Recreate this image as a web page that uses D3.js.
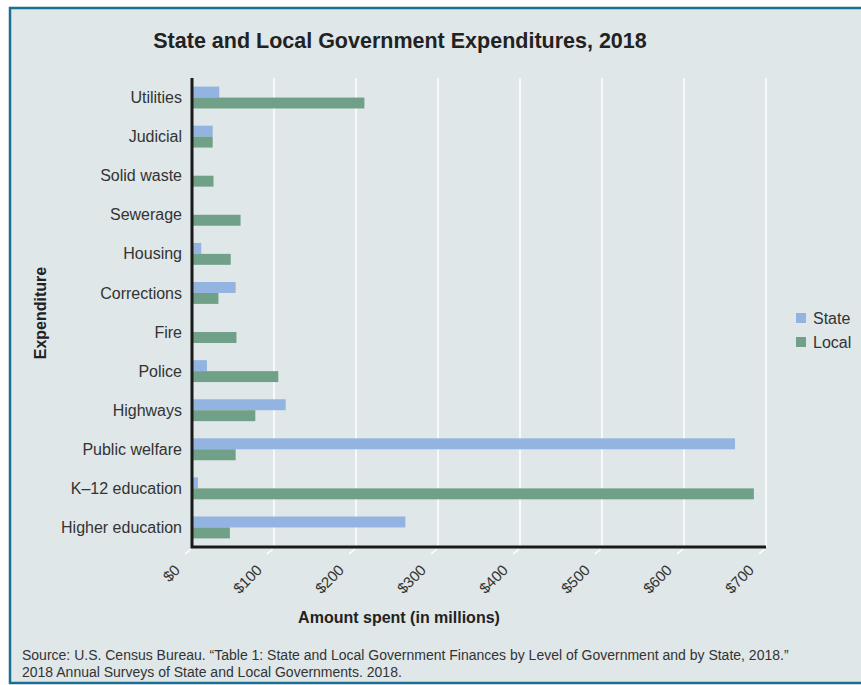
<!DOCTYPE html>
<html>
<head>
<meta charset="utf-8">
<script src="https://cdn.jsdelivr.net/npm/d3@7"></script>
<style>
  body { margin: 0; background: #fff; font-family: "Liberation Sans", Arial, sans-serif; }
  svg text { font-family: "Liberation Sans", Arial, sans-serif; }
</style>
</head>
<body>
<div class="chart-container"></div>
<script>
// datos (millones de dolares)
const categories = ["Utilities", "Judicial", "Solid waste", "Sewerage", "Housing", "Corrections",
  "Fire", "Police", "Highways", "Public welfare", "K\u201312 education", "Higher education"]
const stateValues = [32, 24, 0, 0, 10, 52, 0, 17, 113, 661, 6, 259]
const localValues = [209, 24, 25, 58, 46, 31, 53, 104, 76, 52, 684, 45]
const seriesNames = ["State", "Local"]
const xTicks = [0, 100, 200, 300, 400, 500, 600, 700]

const WIDTH = 861
const HEIGHT = 685
const margin = { top: 78, left: 192, right: 95, bottom: 138 }
const plotW = 574
const plotH = HEIGHT - margin.top - margin.bottom

const colors = { State: "#93b3e0", Local: "#70a088" }

const svg = d3.select(".chart-container")
  .append("svg")
  .attr("width", WIDTH)
  .attr("height", HEIGHT)

// panel de fondo
svg.append("rect")
  .attr("x", 10).attr("y", 8)
  .attr("width", WIDTH).attr("height", 675)
  .attr("fill", "#dfe7e9")
  .attr("stroke", "#1b6f93")
  .attr("stroke-width", 2.5)

// Titulo
svg.append("text")
  .attr("x", 400).attr("y", 48)
  .attr("text-anchor", "middle")
  .attr("font-size", 21.5)
  .attr("font-weight", "bold")
  .attr("fill", "#222")
  .text("State and Local Government Expenditures, 2018")

const xScale = d3.scaleLinear().domain([0, 700]).range([0, plotW])
const yScale = d3.scaleBand().domain(categories).range([0, plotH]).paddingInner(0.44).paddingOuter(0.22)
const subScale = d3.scaleBand().domain(seriesNames).range([0, yScale.bandwidth()])

const g = svg.append("g").attr("transform", `translate(${margin.left}, ${margin.top})`)

// lineas de grilla
g.append("g")
  .selectAll("line")
  .data(xTicks.slice(1))
  .join("line")
  .attr("x1", d => xScale(d)).attr("x2", d => xScale(d))
  .attr("y1", 0).attr("y2", plotH)
  .attr("stroke", "#fff")
  .attr("stroke-width", 1.5)

// ticks inclinados
g.append("g")
  .selectAll("line")
  .data(xTicks)
  .join("line")
  .attr("x1", d => xScale(d) - 1).attr("x2", d => xScale(d) - 7)
  .attr("y1", plotH + 2).attr("y2", plotH + 7)
  .attr("stroke", "#fff")
  .attr("stroke-width", 1.5)

// barras
const rows = categories.map((c, i) => ({ cat: c, State: stateValues[i], Local: localValues[i] }))
const groups = g.append("g")
  .selectAll("g")
  .data(rows)
  .join("g")
  .attr("transform", d => `translate(0, ${yScale(d.cat)})`)

groups.selectAll("rect")
  .data(d => seriesNames.map(s => ({ key: s, value: d[s] })))
  .join("rect")
  .attr("x", 1)
  .attr("y", d => subScale(d.key))
  .attr("width", d => xScale(d.value))
  .attr("height", subScale.bandwidth())
  .attr("fill", d => colors[d.key])

// etiquetas de categorias
g.append("g")
  .selectAll("text")
  .data(categories)
  .join("text")
  .attr("x", -10)
  .attr("y", d => yScale(d) + yScale.bandwidth() / 2)
  .attr("dy", "0.35em")
  .attr("text-anchor", "end")
  .attr("font-size", 16)
  .attr("fill", "#333")
  .text(d => d)

// etiquetas eje x
g.append("g")
  .selectAll("text")
  .data(xTicks)
  .join("text")
  .attr("transform", d => `translate(${xScale(d) - 11}, ${plotH + 24}) rotate(-45)`)
  .attr("text-anchor", "end")
  .attr("font-size", 15)
  .attr("fill", "#333")
  .text(d => "$" + d)

// ejes
g.append("path")
  .attr("d", `M0,0 V${plotH} H${plotW}`)
  .attr("fill", "none")
  .attr("stroke", "#1a1a1a")
  .attr("stroke-width", 3)

// titulos de ejes
svg.append("text")
  .attr("x", 399).attr("y", 623)
  .attr("text-anchor", "middle")
  .attr("font-size", 16)
  .attr("font-weight", "bold")
  .attr("fill", "#222")
  .text("Amount spent (in millions)")

svg.append("text")
  .attr("transform", "translate(46, 313) rotate(-90)")
  .attr("text-anchor", "middle")
  .attr("font-size", 16)
  .attr("font-weight", "bold")
  .attr("fill", "#222")
  .text("Expenditure")

// leyenda
const legend = svg.append("g").attr("transform", "translate(796, 313)")
legend.selectAll("rect")
  .data(seriesNames)
  .join("rect")
  .attr("x", 0).attr("y", (d, i) => i * 24)
  .attr("width", 10).attr("height", 10)
  .attr("fill", d => colors[d])
legend.selectAll("text")
  .data(seriesNames)
  .join("text")
  .attr("x", 17).attr("y", (d, i) => i * 24 + 5)
  .attr("dy", "0.35em")
  .attr("font-size", 16)
  .attr("fill", "#333")
  .text(d => d)

// fuente
const source = [
  "Source: U.S. Census Bureau. \u201cTable 1: State and Local Government Finances by Level of Government and by State, 2018.\u201d",
  "2018 Annual Surveys of State and Local Governments. 2018."
]
svg.append("g")
  .selectAll("text")
  .data(source)
  .join("text")
  .attr("x", 22)
  .attr("y", (d, i) => 660 + i * 17)
  .attr("font-size", 14)
  .attr("fill", "#333")
  .text(d => d)
</script>
</body>
</html>
